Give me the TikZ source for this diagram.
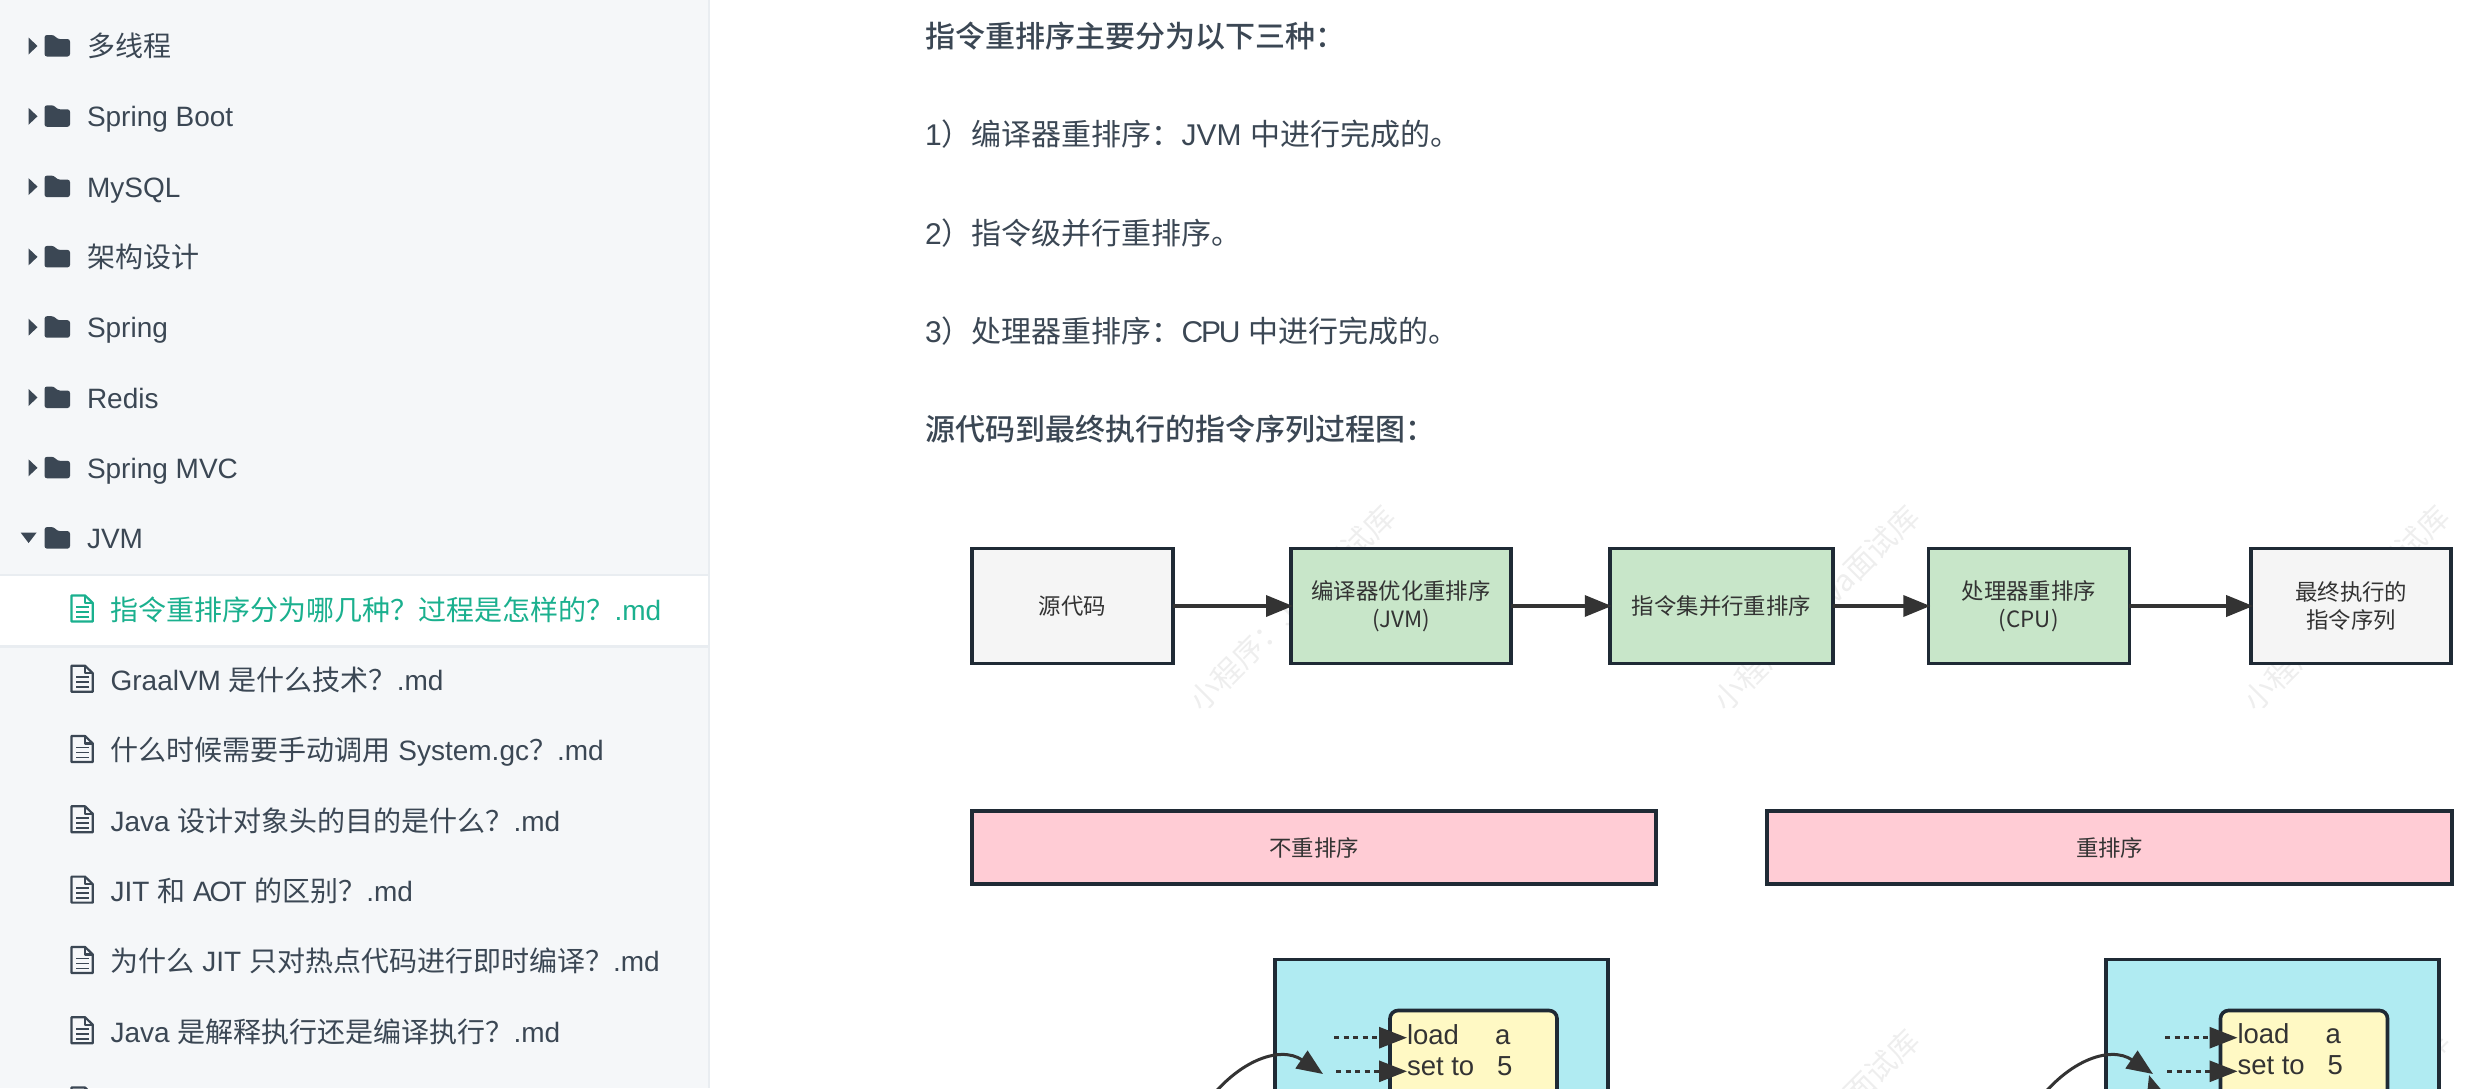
\documentclass[tikz,border=0pt]{standalone}
\usepackage{fontspec}
\setmainfont{Liberation Sans}
\newfontfamily\cjk{Noto Sans CJK SC}
\newfontfamily\cjkm{Noto Sans CJK SC Medium}
\usetikzlibrary{arrows.meta,positioning,calc}
\definecolor{sidebg}{HTML}{F5F7F9}
\definecolor{sideln}{HTML}{E9EDF1}
\definecolor{ink}{HTML}{3B4754}
\definecolor{active}{HTML}{1AB08E}
\definecolor{bordr}{HTML}{1F2A35}
\definecolor{arrowc}{HTML}{333333}
\definecolor{grn}{HTML}{C8E6C9}
\definecolor{gry}{HTML}{F5F5F5}
\definecolor{pnk}{HTML}{FFCCD5}
\definecolor{cyn}{HTML}{B0EBF2}
\definecolor{ylw}{HTML}{FFF9C4}
\newcommand{\C}[1]{{\cjk #1}}
\newcommand{\FolderIcon}[1]{\begin{scope}[shift={(0,#1)}]
  \fill[ink,rounded corners=2.5pt] (44.5,10.5)--(44.5,-11)--(54,-11)--(57.5,-7)--(70,-7)--(70,10.5)--cycle;
\end{scope}}
\newcommand{\ClosedTri}[1]{\begin{scope}[shift={(0,#1)}]
  \fill[ink] (28.5,-8.5)--(37.5,0)--(28.5,8.5)--cycle;
\end{scope}}
\newcommand{\DocIcon}[2]{\begin{scope}[shift={(0,#1)},draw=#2,line width=2.2pt,line join=round]
  \draw (71.5,-13)--(85,-13)--(92.8,-5.5)--(92.8,13)--(71.5,13)--cycle;
  \draw (85,-13)--(85,-5.5)--(92.8,-5.5);
  \draw[line width=1.8pt] (76,-1.5)--(88.5,-1.5) (76,3.5)--(88.5,3.5) (76,8.5)--(88.5,8.5);
\end{scope}}
\tikzset{
  side/.style={anchor=base west,inner sep=0pt,outer sep=0pt,text=ink,font=\fontsize{28}{34}\selectfont},
  para/.style={anchor=base west,inner sep=0pt,outer sep=0pt,text=ink,font=\fontsize{30}{36}\selectfont},
  flow/.style={draw=bordr,line width=3.6pt,inner sep=0pt,outer sep=0pt,text=arrowc,align=center,
     font=\fontsize{22.4}{28}\selectfont\cjk,minimum height=115pt,execute at begin node={\vspace*{3pt}}},
  head/.style={flow,fill=pnk,minimum height=73.5pt},
  lane/.style={draw=bordr,line width=3.6pt,fill=cyn,inner sep=0pt,outer sep=0pt,minimum width=333pt,minimum height=140pt},
  code/.style={draw=bordr,line width=3.6pt,fill=ylw,rounded corners=8pt,inner sep=0pt,outer sep=0pt,minimum width=167pt,minimum height=90pt},
  instr/.style={anchor=base west,inner sep=0pt,outer sep=0pt,text=arrowc,font=\fontsize{27.5}{30}\selectfont},
  solidarrow/.style={draw=arrowc,line width=3.6pt,-{Triangle[length=27pt,width=21pt]},shorten >=-2pt},
  dotarrow/.style={draw=arrowc,line width=3pt,dash pattern=on 5pt off 4.5pt,-{Triangle[length=28pt,width=21pt]}},
  curvearrow/.style={draw=arrowc,line width=3pt,-{Triangle[length=26pt,width=21pt]}},
  wmark/.style={rotate=45,inner sep=0pt,text=black,text opacity=0.065,font=\fontsize{30}{30}\selectfont\cjk}
}
\begin{document}
\begin{tikzpicture}[x=1pt,y=-1pt]
\useasboundingbox (0,0) rectangle (2482,1088);
\clip (0,0) rectangle (2482,1088);
\fill[white] (0,0) rectangle (2482,1088);
% sidebar
\fill[sidebg] (0,0) rectangle (708,1088);
\fill[sideln] (707.5,0) rectangle (709.5,1088);
\fill[white] (0,574) rectangle (708,646.5);
\fill[sideln] (0,573.5) rectangle (708,576);
\fill[sideln] (0,645) rectangle (708,647.5);
\foreach \yy in {46,116.3,186.6,256.9,327.2,397.5,467.8}{\ClosedTri{\yy}}
\fill[ink] (20.6,532.5)--(36.7,532.5)--(28.6,543)--cycle;
\foreach \yy in {46,116.3,186.6,256.9,327.2,397.5,467.8,538.1}{\FolderIcon{\yy}}
\node[side] (s1) at (87,56.5) {\C{多线程}};
\node[side] (s2) at (87,126.8) {Spring Boot};
\node[side] (s3) at (87,197.1) {MySQL};
\node[side] (s4) at (87,267.4) {\C{架构设计}};
\node[side] (s5) at (87,337.7) {Spring};
\node[side] (s6) at (87,408) {Redis};
\node[side] (s7) at (87,478.3) {Spring MVC};
\node[side] (s8) at (87,548.6) {JVM};
\DocIcon{608.4}{active}
\foreach \yy in {678.7,749,819.3,889.6,959.9,1030.2,1100.5}{\DocIcon{\yy}{ink}}
\node[side,text=active] (d1) at (110.6,620.2) {\C{指令重排序分为哪几种？过程是怎样的？}.md};
\node[side] (d2) at (110.6,690.5) {GraalVM \C{是什么技术？}.md};
\node[side] (d3) at (110.6,760.8) {\C{什么时候需要手动调用} System.gc\C{？}.md};
\node[side] (d4) at (110.6,831.1) {Java \C{设计对象头的目的是什么？}.md};
\node[side] (d5) at (110.6,901.4) {JIT \C{和} A\kern-2pt O\kern-2pt T \C{的区别？}.md};
\node[side] (d6) at (110.6,971.7) {\C{为什么} JIT \C{只对热点代码进行即时编译？}.md};
\node[side] (d7) at (110.6,1042) {Java \C{是解释执行还是编译执行？}.md};
% watermarks sit behind the diagram
\foreach \wx/\wy/\wn in {1292/608/w1,1816/608/w2,2346/608/w3,1816/1132/w5,2346/1132/w6}{
  \node[wmark] (\wn) at (\wx,\wy) {小程序：Java面试库};
}
% article
\node[para] (p1) at (925,47) {{\cjkm 指令重排序主要分为以下三种：}};
\node[para] (p2) at (925,145) {1\C{）编译器重排序：}JVM \C{中进行完成的。}};
\node[para] (p3) at (925,244) {2\C{）指令级并行重排序。}};
\node[para] (p4) at (925,342) {3\C{）处理器重排序：}C\kern-2.3pt P\kern-2.3pt U \C{中进行完成的。}};
\node[para] (p5) at (925,440) {{\cjkm 源代码到最终执行的指令序列过程图：}};
% flow
\node[flow,fill=gry,minimum width=201pt] (src) at (1072.3,606) {源代码};
\node[flow,fill=grn,minimum width=220pt] (comp) at (1401,606) {编译器优化重排序\\(JVM)};
\node[flow,fill=grn,minimum width=223.5pt] (inst) at (1721.5,606) {指令集并行重排序};
\node[flow,fill=grn,minimum width=201pt] (proc) at (2028.8,606) {处理器重排序\\(CPU)};
\node[flow,fill=gry,minimum width=200pt] (final) at (2351.2,606) {最终执行的\\指令序列};
\draw[solidarrow] (src) -- (comp);
\draw[solidarrow] (comp) -- (inst);
\draw[solidarrow] (inst) -- (proc);
\draw[solidarrow] (proc) -- (final);
\node[head,minimum width=684.5pt] (h1) at (1314,847.5) {不重排序};
\node[head,minimum width=685pt] (h2) at (2109.7,847.5) {重排序};
% left lane
\node[lane] (laneL) at (1441.5,1029.5) {};
\node[code] (codeL) at (1473.5,1055.5) {};
\node[instr] (la) at (1407,1044) {load};
\node[instr] (lav) at (1495,1044) {a};
\node[instr] (ls) at (1407,1075) {set to};
\node[instr] (lsv) at (1497,1075) {5};
\coordinate (dl1) at (1334,1037.7);
\coordinate (dl2) at (1336,1071.3);
\draw[dotarrow] (dl1) -- (dl1 -| la.west);
\draw[dotarrow] (dl2) -- (dl2 -| ls.west);
\coordinate (cl0) at (1200,1112);
\coordinate (cl1) at (1323,1074);
\draw[curvearrow] (cl0) .. controls (1235,1060) and (1280,1045) .. (cl1);
% right lane
\node[lane] (laneR) at (2272.5,1029.5) {};
\node[code] (codeR) at (2304,1055.5) {};
\node[instr] (ra) at (2237.5,1043) {load};
\node[instr] (rav) at (2325.5,1043) {a};
\node[instr] (rs) at (2237.5,1074) {set to};
\node[instr] (rsv) at (2327.5,1074) {5};
\coordinate (dr1) at (2165,1037.7);
\coordinate (dr2) at (2167,1071.3);
\draw[dotarrow] (dr1) -- (dr1 -| ra.west);
\draw[dotarrow] (dr2) -- (dr2 -| rs.west);
\coordinate (cr0) at (2030,1112);
\coordinate (cr1) at (2153,1074);
\draw[curvearrow] (cr0) .. controls (2065,1060) and (2110,1045) .. (cr1);
\coordinate (cr2) at (2161,1114);
\coordinate (cr3) at (2149,1075);
\draw[curvearrow] (cr2) -- (cr3);
\end{tikzpicture}
\end{document}
